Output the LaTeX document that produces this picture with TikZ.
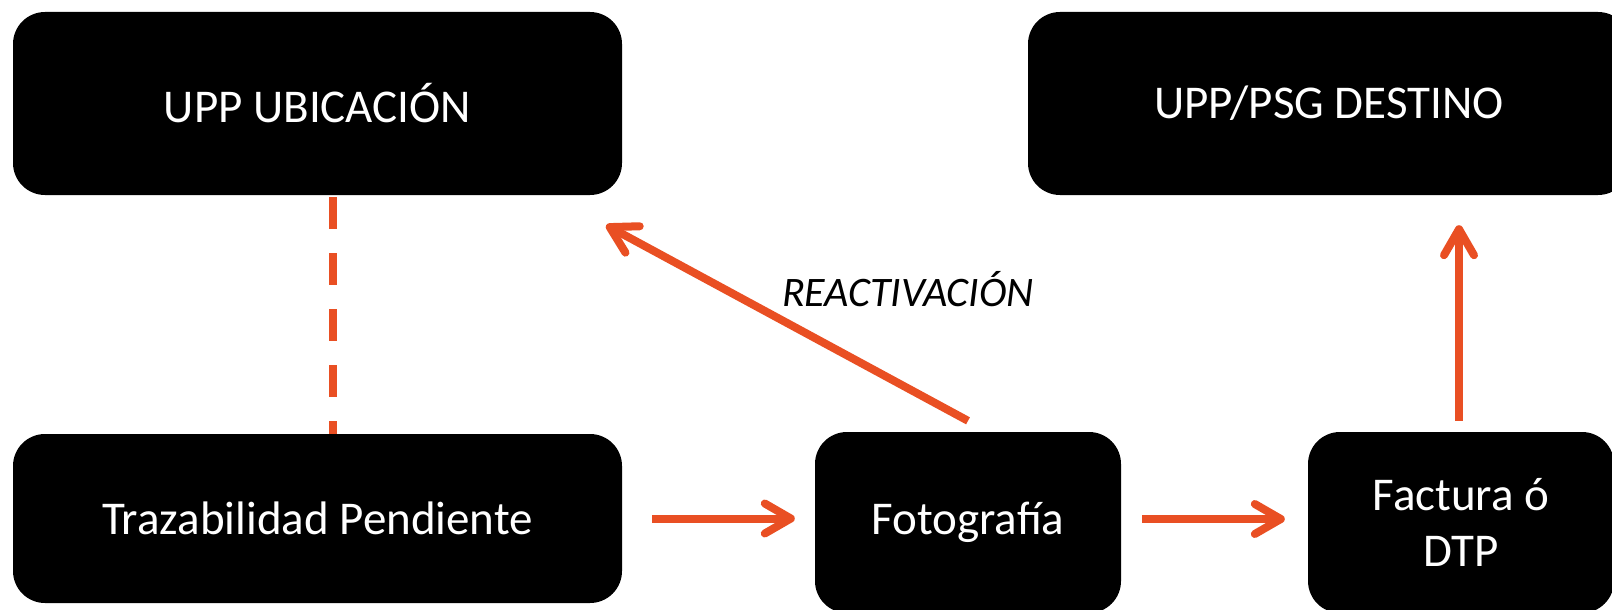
\documentclass[tikz,border=0pt]{standalone}
\usepackage{fontspec}
\setmainfont{Carlito}
\usetikzlibrary{arrows.meta}
\definecolor{accent}{RGB}{233,79,35}
\tikzset{
  box/.style={draw=none, fill=black, rounded corners=32pt, inner sep=0pt,
    text=white, align=center, font=\fontsize{47}{56}\selectfont},
  arr/.style={draw=accent, line width=8pt,
    -{Straight Barb[length=26pt, width=30pt, round]}},
  dashline/.style={draw=accent, line width=8pt, dash pattern=on 32pt off 24pt},
  lbl/.style={inner sep=0pt, text=black, font=\fontsize{42}{50}\selectfont\itshape}
}
\begin{document}
\begin{tikzpicture}[x=1pt, y=-1pt]
\useasboundingbox (0,0) rectangle (1612,610);
\node[box, minimum width=609pt, minimum height=183pt] (ubic) at (317.5,103.5) {UPP UBICACIÓN};
\node[box, minimum width=602pt, minimum height=183pt] (dest) at (1329,103.5) {UPP/PSG DESTINO};
\node[box, minimum width=609pt, minimum height=169pt] (traz) at (317.5,518.5) {Trazabilidad Pendiente};
\node[box, minimum width=306pt, minimum height=181pt] (foto) at (968,522.5) {Fotografía};
\node[box, minimum width=306pt, minimum height=181pt] (fact) at (1461,522.5) {Factura ó\\DTP};
\node[lbl] (react) at (908,289) {REACTIVACIÓN};
\draw[dashline] ([xshift=15.5pt,yshift=-2pt]ubic.south) -- ([xshift=15.5pt]traz.north);
\draw[arr, shorten <=30pt, shorten >=20pt] (traz.east) -- (traz.east -| foto.west);
\draw[arr, shorten <=21pt, shorten >=23pt] ([yshift=3.5pt]foto.east) -- ([yshift=3.5pt]fact.west);
\draw[arr, shorten <=11pt, shorten >=30pt] ([xshift=-2pt]fact.north) -- ([xshift=-2pt]fact.north |- dest.south);
\draw[arr] ([yshift=11pt]foto.north) -- ([xshift=-16pt,yshift=-30pt]ubic.south east);
\end{tikzpicture}
\end{document}
